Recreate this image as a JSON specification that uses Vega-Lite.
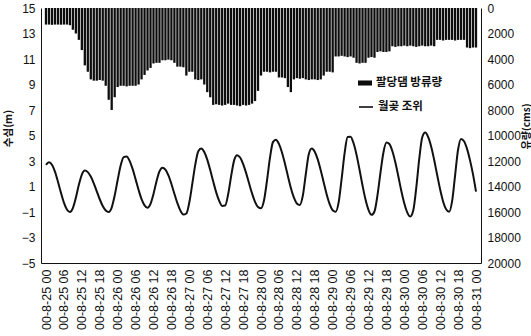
{
"$schema": "https://vega.github.io/schema/vega-lite/v6.json",
"width": 440, "height": 255,
"autosize": {"type": "none"},
"padding": {"left": 41, "top": 8, "right": 50, "bottom": 73},
"background": "white",
"config": {"view": {"stroke": null}, "axis": {"labelFont": "Liberation Sans", "titleFont": "Noto Sans CJK KR", "labelColor": "#111", "domainColor": "#111", "tickColor": "#111", "grid": false, "titleColor": "#111"}},
"data": {"values": [
{"h":0,"tide":2.7,"q":1300},{"h":1,"tide":2.9,"q":1300},{"h":2,"tide":2.71,"q":1320},{"h":3,"tide":2.17,"q":1300},{"h":4,"tide":1.38,"q":1300},{"h":5,"tide":0.52,"q":1310},{"h":6,"tide":-0.27,"q":1300},{"h":7,"tide":-0.81,"q":1300},{"h":8,"tide":-1.0,"q":1350},{"h":9,"tide":-0.69,"q":1700},
{"h":10,"tide":0.12,"q":2000},{"h":11,"tide":1.13,"q":2500},{"h":12,"tide":1.94,"q":3300},{"h":13,"tide":2.25,"q":4500},{"h":14,"tide":2.13,"q":5000},{"h":15,"tide":1.78,"q":5600},{"h":16,"tide":1.25,"q":5700},{"h":17,"tide":0.62,"q":5700},{"h":18,"tide":0.0,"q":5650},{"h":19,"tide":-0.53,"q":5700},
{"h":20,"tide":-0.88,"q":6100},{"h":21,"tide":-1.0,"q":7200},{"h":22,"tide":-0.65,"q":8000},{"h":23,"tide":0.29,"q":7000},{"h":24,"tide":1.51,"q":6200},{"h":25,"tide":2.64,"q":6100},{"h":26,"tide":3.31,"q":6100},{"h":27,"tide":3.36,"q":6150},{"h":28,"tide":3.01,"q":6100},{"h":29,"tide":2.38,"q":6100},
{"h":30,"tide":1.58,"q":6100},{"h":31,"tide":0.74,"q":6000},{"h":32,"tide":0.01,"q":5600},{"h":33,"tide":-0.48,"q":5250},{"h":34,"tide":-0.66,"q":4900},{"h":35,"tide":-0.36,"q":4700},{"h":36,"tide":0.42,"q":4350},{"h":37,"tide":1.4,"q":4300},{"h":38,"tide":2.18,"q":4300},{"h":39,"tide":2.48,"q":4100},
{"h":40,"tide":2.32,"q":4100},{"h":41,"tide":1.87,"q":4050},{"h":42,"tide":1.2,"q":4100},{"h":43,"tide":0.43,"q":4300},{"h":44,"tide":-0.31,"q":4600},{"h":45,"tide":-0.89,"q":4600},{"h":46,"tide":-1.2,"q":4650},{"h":47,"tide":-1.12,"q":5300},{"h":48,"tide":-0.24,"q":5000},{"h":49,"tide":1.22,"q":5000},
{"h":50,"tide":2.73,"q":5600},{"h":51,"tide":3.76,"q":5650},{"h":52,"tide":3.98,"q":5600},{"h":53,"tide":3.7,"q":6000},{"h":54,"tide":3.11,"q":6600},{"h":55,"tide":2.29,"q":7000},{"h":56,"tide":1.39,"q":7600},{"h":57,"tide":0.54,"q":7550},{"h":58,"tide":-0.13,"q":7600},{"h":59,"tide":-0.52,"q":7650},
{"h":60,"tide":-0.49,"q":7600},{"h":61,"tide":0.39,"q":7500},{"h":62,"tide":1.81,"q":7600},{"h":63,"tide":3.05,"q":7600},{"h":64,"tide":3.46,"q":7650},{"h":65,"tide":3.27,"q":7700},{"h":66,"tide":2.78,"q":7600},{"h":67,"tide":2.07,"q":7650},{"h":68,"tide":1.25,"q":7600},{"h":69,"tide":0.46,"q":7500},
{"h":70,"tide":-0.2,"q":7300},{"h":71,"tide":-0.61,"q":6500},{"h":72,"tide":-0.71,"q":5300},{"h":73,"tide":-0.1,"q":5000},{"h":74,"tide":1.45,"q":5000},{"h":75,"tide":3.24,"q":5050},{"h":76,"tide":4.48,"q":5000},{"h":77,"tide":4.67,"q":5000},{"h":78,"tide":4.34,"q":5450},{"h":79,"tide":3.69,"q":5450},
{"h":80,"tide":2.81,"q":5500},{"h":81,"tide":1.83,"q":6200},{"h":82,"tide":0.89,"q":6600},{"h":83,"tide":0.14,"q":5600},{"h":84,"tide":-0.33,"q":5500},{"h":85,"tide":-0.45,"q":5550},{"h":86,"tide":0.27,"q":5500},{"h":87,"tide":1.96,"q":5600},{"h":88,"tide":3.53,"q":5650},{"h":89,"tide":3.98,"q":5600},
{"h":90,"tide":3.73,"q":5600},{"h":91,"tide":3.13,"q":5650},{"h":92,"tide":2.28,"q":5600},{"h":93,"tide":1.32,"q":5300},{"h":94,"tide":0.38,"q":5000},{"h":95,"tide":-0.38,"q":5000},{"h":96,"tide":-0.86,"q":5050},{"h":97,"tide":-0.98,"q":3800},{"h":98,"tide":-0.25,"q":3800},{"h":99,"tide":1.59,"q":3750},
{"h":100,"tide":3.62,"q":3800},{"h":101,"tide":4.88,"q":3850},{"h":102,"tide":4.91,"q":3800},{"h":103,"tide":4.39,"q":3900},{"h":104,"tide":3.48,"q":4300},{"h":105,"tide":2.31,"q":4350},{"h":106,"tide":1.08,"q":4300},{"h":107,"tide":-0.02,"q":4300},{"h":108,"tide":-0.83,"q":3900},{"h":109,"tide":-1.22,"q":3850},
{"h":110,"tide":-0.96,"q":3900},{"h":111,"tide":0.3,"q":3450},{"h":112,"tide":2.07,"q":3400},{"h":113,"tide":3.67,"q":3450},{"h":114,"tide":4.45,"q":3450},{"h":115,"tide":4.33,"q":3400},{"h":116,"tide":3.77,"q":3000},{"h":117,"tide":2.88,"q":3050},{"h":118,"tide":1.78,"q":3000},{"h":119,"tide":0.64,"q":3000},
{"h":120,"tide":-0.34,"q":2950},{"h":121,"tide":-1.05,"q":3000},{"h":122,"tide":-1.36,"q":2950},{"h":123,"tide":-0.87,"q":3000},{"h":124,"tide":0.91,"q":3050},{"h":125,"tide":3.18,"q":3000},{"h":126,"tide":4.86,"q":2950},{"h":127,"tide":5.23,"q":3000},{"h":128,"tide":4.87,"q":3000},{"h":129,"tide":4.12,"q":2950},
{"h":130,"tide":3.08,"q":3000},{"h":131,"tide":1.9,"q":2500},{"h":132,"tide":0.76,"q":2500},{"h":133,"tide":-0.19,"q":2550},{"h":134,"tide":-0.79,"q":2500},{"h":135,"tide":-0.98,"q":2500},{"h":136,"tide":-0.15,"q":2500},{"h":137,"tide":1.88,"q":2550},{"h":138,"tide":3.9,"q":2500},{"h":139,"tide":4.73,"q":2500},
{"h":140,"tide":4.55,"q":2500},{"h":141,"tide":3.95,"q":3100},{"h":142,"tide":3.05,"q":3150},{"h":143,"tide":1.95,"q":3100},{"h":144,"tide":0.6,"q":3100}
]},
"encoding": {
  "x": {"field": "h", "type": "quantitative", "scale": {"domain": [0, 144], "nice": false, "zero": false},
        "axis": {"values": [0,6,12,18,24,30,36,42,48,54,60,66,72,78,84,90,96,102,108,114,120,126,132,138,144],
                 "labelAngle": 270, "labelFontSize": 12.5, "labelPadding": 6, "tickSize": 0, "title": null, "labelFlush": false, "labelOverlap": false, "labelBound": false,
                 "labelExpr": "'00-8-' + (25 + floor(datum.value / 24)) + ' ' + ((datum.value % 24) < 10 ? '0' + (datum.value % 24) : '' + (datum.value % 24))"}}
},
"layer": [
{"mark": {"type": "bar", "size": 2.3, "clip": true},
 "encoding": {
  "y": {"field": "q", "type": "quantitative", "scale": {"domain": [0, 20000], "reverse": true, "nice": false},
        "axis": {"orient": "right", "values": [0,2000,4000,6000,8000,10000,12000,14000,16000,18000,20000], "format": "d", "labelFontSize": 12, "labelPadding": 6, "tickSize": 0,
                 "title": "유량(cms)", "titleFontSize": 10, "titleFontWeight": "bold", "titleAngle": 270, "titleX": 50, "titleY": 118, "titleBaseline": "bottom"}},
  "fill": {"datum": "팔당댐 방류량", "type": "nominal", "scale": {"range": ["#0d0d0d"]},
           "legend": {"title": null, "orient": "none", "legendX": 317, "legendY": 68, "symbolType": "M-1,-0.36H1V0.36H-1Z", "symbolSize": 196, "symbolStrokeWidth": 0, "labelFont": "Noto Sans CJK KR", "labelFontSize": 11.5, "labelFontWeight": "bold", "labelColor": "#111", "labelOffset": 4, "padding": 0}}
 }},
{"mark": {"type": "line", "interpolate": "monotone", "strokeWidth": 2},
 "encoding": {
  "y": {"field": "tide", "type": "quantitative", "scale": {"domain": [-5, 15], "nice": false},
        "axis": {"orient": "left", "values": [-5,-3,-1,1,3,5,7,9,11,13,15], "labelFontSize": 12, "labelPadding": 6, "tickSize": 0,
                 "title": "수심(m)", "titleFontSize": 10.5, "titleFontWeight": "bold", "titleX": -28, "titleY": 120}},
  "stroke": {"datum": "월곶 조위", "type": "nominal", "scale": {"range": ["#111"]},
             "legend": {"title": null, "orient": "none", "legendX": 317, "legendY": 91, "symbolType": "stroke", "symbolSize": 196, "symbolStrokeWidth": 1.6, "labelFont": "Noto Sans CJK KR", "labelFontSize": 11.5, "labelFontWeight": "bold", "labelColor": "#111", "labelOffset": 4, "padding": 0}}
 }}
],
"resolve": {"scale": {"y": "independent"}}
}
